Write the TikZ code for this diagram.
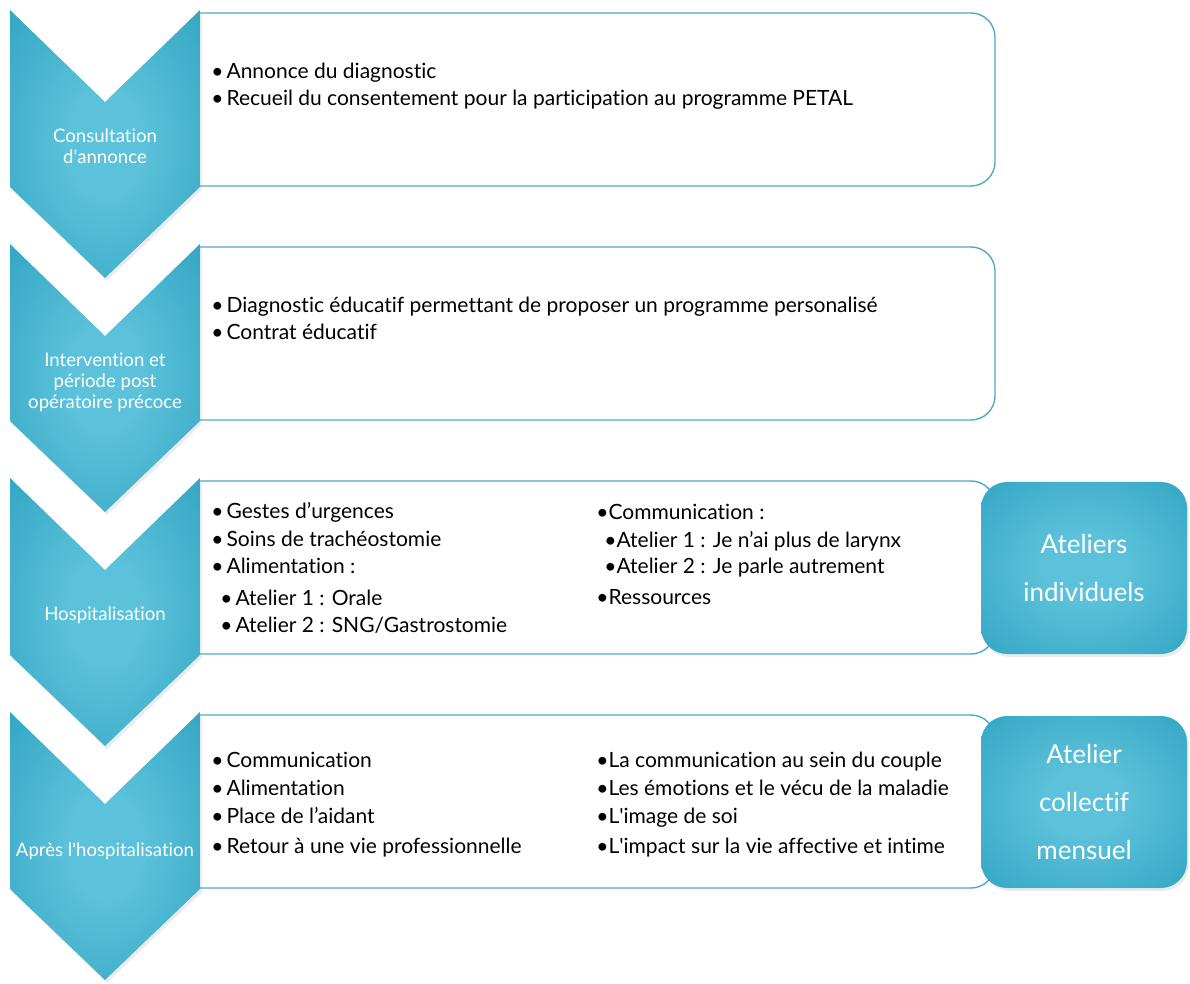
\documentclass[tikz,border=0pt]{standalone}
\usepackage{fontspec}
\setmainfont{Lato}[Ligatures={NoCommon}]
\usetikzlibrary{shadows}
\definecolor{petalL}{RGB}{92,193,218}
\definecolor{petalD}{RGB}{32,154,185}
\definecolor{petalLine}{RGB}{80,170,196}
\pgfdeclareradialshading{petal}{\pgfpoint{0bp}{0bp}}{color(0bp)=(petalL); color(10bp)=(petalL); color(48bp)=(petalD); color(100bp)=(petalD)}
\newcommand{\sq}{\textquotesingle}
\tikzset{
	chev/.style={shading=petal, drop shadow={opacity=.15, shadow xshift=1pt, shadow yshift=-1.5pt}},
	stepbox/.style={draw=petalLine, line width=.7pt, fill=white, rounded corners=12pt},
	chevtxt/.style={text=white, align=center, font=\fontsize{9.3}{10.5}\selectfont},
	item/.style={anchor=base west, inner sep=0pt, font=\fontsize{10.5}{12}\selectfont},
	atelier/.style={shading=petal, rounded corners=13pt, minimum width=103pt, minimum height=86pt, text=white, align=center, font=\fontsize{13}{24}\selectfont, drop shadow={opacity=.15, shadow xshift=1pt, shadow yshift=-1.5pt}}
}
\begin{document}
\begin{tikzpicture}[x=0.5pt, y=-0.5pt]
		\useasboundingbox (0,0) rectangle (1190,984);
		\foreach \t in {10, 244, 478, 712}{
			\filldraw[stepbox] (200,\t+3) -- (995,\t+3) -- (995,\t+176) -- (200,\t+176);
			\path[chev] (10,\t) -- (105,\t+92) -- (200,\t) -- (200,\t+177) -- (105,\t+268) -- (10,\t+177) -- cycle;
		}
		\node[chevtxt] (consult) at (105,146) {Consultation\\d\sq annonce};
		\node[chevtxt] (interv) at (105,382) {Intervention et\\période post\\opératoire précoce};
		\node[chevtxt] (hosp) at (105,615) {Hospitalisation};
		\node[chevtxt] (apres) at (105,851) {Après l\sq hospitalisation};
		\foreach \y/\txt [count=\i] in {79/{Annonce du diagnostic}, 106/{Recueil du consentement pour la participation au programme PETAL}}{
			\node[item] (un\i) at (211,\y) {\textbullet\hspace{1.5pt}\txt};
		}
		\foreach \y/\txt [count=\i] in {313/{Diagnostic éducatif permettant de proposer un programme personalisé}, 340/{Contrat éducatif}}{
			\node[item] (deux\i) at (211,\y) {\textbullet\hspace{1.5pt}\txt};
		}
		\foreach \x/\y/\txt [count=\i] in {211/518/{Gestes d’urgences}, 211/546/{Soins de trachéostomie}, 211/574/{Alimentation :}, 220/605/{Atelier 1 : Orale}, 220/632/{Atelier 2 : SNG/Gastrostomie}}{
			\node[item] (trois\i) at (\x,\y) {\textbullet\hspace{1.5pt}\txt};
		}
		\foreach \x/\y/\txt [count=\i] in {596/519/{Communication :}, 604/547/{Atelier 1 : Je n’ai plus de larynx}, 604/574/{Atelier 2 : Je parle autrement}, 596/604/{Ressources}}{
			\node[item] (troisb\i) at (\x,\y) {\textbullet\txt};
		}
		\foreach \y/\txt [count=\i] in {767/{Communication}, 795/{Alimentation}, 823/{Place de l’aidant}, 853/{Retour à une vie professionnelle}}{
			\node[item] (quatre\i) at (211,\y) {\textbullet\hspace{1.5pt}\txt};
		}
		\foreach \y/\txt [count=\i] in {767/{La communication au sein du couple}, 795/{Les émotions et le vécu de la maladie}, 823/{L\sq image de soi}, 853/{L\sq impact sur la vie affective et intime}}{
			\node[item] (quatreb\i) at (596,\y) {\textbullet\txt};
		}
		\node[atelier] (atelInd) at (1084,568) {Ateliers\\individuels};
		\node[atelier] (atelColl) at (1084,802) {Atelier\\collectif\\mensuel};
	\end{tikzpicture}
\end{document}
